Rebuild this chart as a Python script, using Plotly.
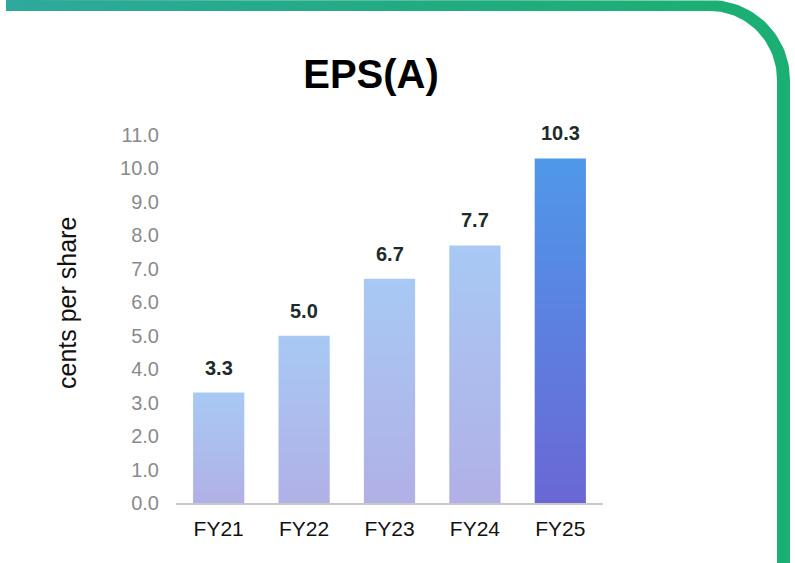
import math
import plotly.graph_objects as go

# EPS data, cents per share
years = ["FY21", "FY22", "FY23", "FY24", "FY25"]
eps = [3.3, 5.0, 6.7, 7.7, 10.3]
value_labels = ["3.3", "5.0", "6.7", "7.7", "10.3"]
y_ticks = [0, 1, 2, 3, 4, 5, 6, 7, 8, 9, 10, 11]

# gradient colours (bottom, top)
past_colors = ["#b1b0e6", "#a8c9f4"]
latest_colors = ["#6a67d4", "#4f98ea"]

W, H = 795, 563
half = 0.3  # half bar width in category units

fig = go.Figure()

# bars as filled polygons so they can carry a vertical gradient
for i, (yr, v) in enumerate(zip(years, eps)):
    cols = latest_colors if yr == years[-1] else past_colors
    fig.add_trace(go.Scatter(
        x=[i - half, i + half, i + half, i - half, i - half],
        y=[0, 0, v, v, 0],
        mode="lines", line=dict(width=0),
        fill="toself",
        fillgradient=dict(type="vertical",
                          colorscale=[[0, cols[0]], [1, cols[1]]]),
        hoverinfo="text", text=f"{yr}: {v}",
        showlegend=False,
    ))

# value labels above the bars
for i, (v, lab) in enumerate(zip(eps, value_labels)):
    fig.add_annotation(x=i, y=v, text=f"<b>{lab}</b>", showarrow=False,
                       yanchor="bottom", yshift=12,
                       font=dict(size=20, color="#1e2b2b",
                                 family="Liberation Sans, Arial, sans-serif"))

# y axis title, placed a bit above the plot centre like the original
fig.add_annotation(text="cents per share", xref="paper", yref="paper",
                   x=67 / W, y=1 - 303 / H, textangle=-90, showarrow=False,
                   xanchor="center", yanchor="middle",
                   font=dict(size=25, color="#111111"))

# green frame (decoration) drawn on a full-page axis pair in pixels
cx, cy = 710, 80
outer = [(6, 0), (cx, 0)]
for k in range(0, 31):
    a = -math.pi / 2 + k * (math.pi / 2) / 30
    outer.append((cx + 80 * math.cos(a), cy + 80 * math.sin(a)))
outer.append((790, H + 5))
inner = [(777, H + 5)]
for k in range(30, -1, -1):
    a = -math.pi / 2 + k * (math.pi / 2) / 30
    inner.append((cx + 67 * math.cos(a), cy + 69 * math.sin(a)))
inner.append((6, 11))
pts = outer + inner + [(6, 0)]
fig.add_trace(go.Scatter(
    x=[p[0] for p in pts], y=[p[1] for p in pts],
    xaxis="x2", yaxis="y2",
    mode="lines", line=dict(width=0), fill="toself",
    fillgradient=dict(type="horizontal",
                      colorscale=[[0, "#2ea99c"], [0.5, "#22ab82"],
                                  [0.9, "#1caf74"], [1, "#1caf73"]]),
    hoverinfo="skip", showlegend=False,
))

fig.update_layout(
    width=W, height=H,
    margin=dict(l=0, r=0, t=0, b=0, autoexpand=False),
    paper_bgcolor="white", plot_bgcolor="rgba(0,0,0,0)",
    font=dict(family="Liberation Sans, Arial, sans-serif"),
    title=dict(text="<b>EPS(A)</b>", x=371 / W, xanchor="center",
               y=1 - 74 / H, yanchor="middle",
               font=dict(size=40, color="black",
                         family="Liberation Sans, Arial, sans-serif")),
    xaxis=dict(domain=[176 / W, 603 / W], range=[-0.5, 4.5],
               anchor="y",
               tickvals=list(range(len(years))), ticktext=years,
               showgrid=False, zeroline=False,
               showline=True, linecolor="#c8c8c8", linewidth=2,
               ticks="", ticklabelstandoff=6,
               tickfont=dict(size=21, color="#111111"),
               fixedrange=True),
    yaxis=dict(domain=[60 / H, 428 / H], range=[0, 11],
               anchor="x",
               tickvals=y_ticks, tickformat=".1f",
               showgrid=False, zeroline=False, showline=False,
               ticks="", ticklabelstandoff=16,
               tickfont=dict(size=20, color="#8a8a8a"),
               fixedrange=True),
    xaxis2=dict(domain=[0, 1], range=[0, W], visible=False,
                anchor="y2", fixedrange=True),
    yaxis2=dict(domain=[0, 1], range=[H, 0], visible=False,
                anchor="x2", fixedrange=True),
)

# the page's default body margin would push the figure off by 8px
fig.write_html("out.html", config={"displayModeBar": False},
               post_script="document.body.style.margin='0';"
                           "document.body.style.overflow='hidden';")
